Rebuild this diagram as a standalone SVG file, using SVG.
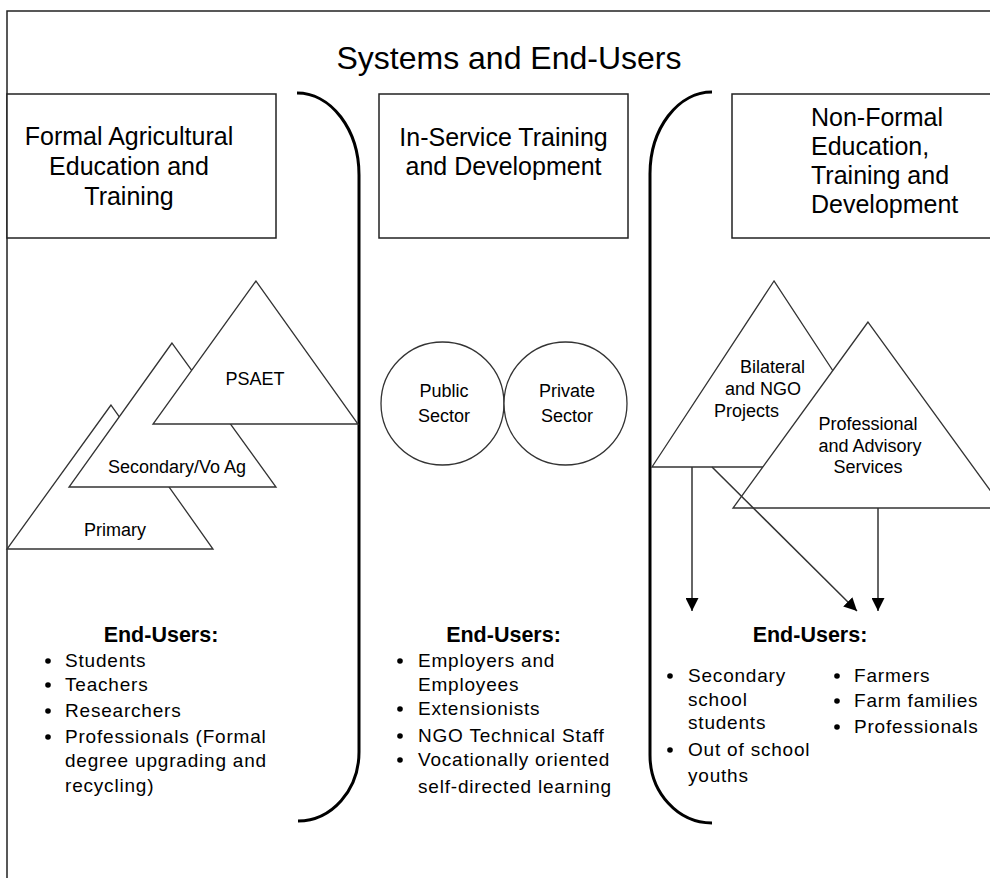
<svg xmlns="http://www.w3.org/2000/svg" width="990" height="878" viewBox="0 0 990 878">
<defs>
<style>
text{font-family:"Liberation Sans",Arial,sans-serif;fill:#000}
.frame{fill:none;stroke:#222;stroke-width:1.5}
.box{fill:#fff;stroke:#222;stroke-width:1.5}
.shape{fill:#fff;stroke:#333;stroke-width:1.3}
.brk{fill:none;stroke:#000;stroke-width:3}
.hdr{font-size:25px}
.lbl{font-size:18px}
.eu{font-size:21.5px;font-weight:bold}
.li{font-size:19px;letter-spacing:0.8px}
.conn{fill:none;stroke:#333;stroke-width:1.5}
.dot{fill:#000}
</style>
<marker id="ah" viewBox="0 0 10 10" refX="10" refY="5" markerWidth="13" markerHeight="13" markerUnits="userSpaceOnUse" orient="auto">
<path d="M0,0 L10,5 L0,10 z" fill="#000"/>
</marker>
</defs>
<rect width="990" height="878" fill="#fff"/>
<path class="frame" d="M995,11 H7 V885"/>
<text x="509" y="69" font-size="32" text-anchor="middle">Systems and End-Users</text>

<g id="box-formal">
<rect class="box" x="7" y="94" width="269" height="144"/>
<text class="hdr" text-anchor="middle"><tspan x="129" y="145">Formal Agricultural</tspan><tspan x="129" y="175">Education and</tspan><tspan x="129" y="205">Training</tspan></text>
</g>
<g id="box-inservice">
<rect class="box" x="379" y="94" width="249" height="144"/>
<text class="hdr" text-anchor="middle"><tspan x="503.5" y="146">In-Service Training</tspan><tspan x="503.5" y="175">and Development</tspan></text>
</g>
<g id="box-nonformal">
<rect class="box" x="732" y="94" width="270" height="144"/>
<text class="hdr"><tspan x="811" y="126">Non-Formal</tspan><tspan x="811" y="155">Education,</tspan><tspan x="811" y="184">Training and</tspan><tspan x="811" y="213">Development</tspan></text>
</g>

<g id="brackets">
<path class="brk" d="M297,93 A62,82 0 0 1 359,175 V752 A61,69 0 0 1 298,821"/>
<path class="brk" d="M712,92 A62,82 0 0 0 650,174 V755 A62,68 0 0 0 712,823"/>
</g>

<g id="tri-primary">
<polygon class="shape" points="111,405 7,549 213,549"/>
<text class="lbl" x="115" y="536" text-anchor="middle">Primary</text>
</g>
<g id="tri-secondary">
<polygon class="shape" points="172,343 69,487 276,487"/>
<text class="lbl" x="177" y="473" text-anchor="middle">Secondary/Vo Ag</text>
</g>
<g id="tri-psaet">
<polygon class="shape" points="256,281 153,424 358,424"/>
<text class="lbl" x="255" y="385" text-anchor="middle">PSAET</text>
</g>

<g id="circle-public">
<circle class="shape" cx="442.5" cy="403.5" r="61.5"/>
<text class="lbl" text-anchor="middle"><tspan x="444" y="397">Public</tspan><tspan x="444" y="422">Sector</tspan></text>
</g>
<g id="circle-private">
<circle class="shape" cx="565.5" cy="403.5" r="61.5"/>
<text class="lbl" text-anchor="middle"><tspan x="567" y="397">Private</tspan><tspan x="567" y="422">Sector</tspan></text>
</g>

<g id="tri-bilateral">
<polygon class="shape" points="774,281 652,467 896,467"/>
<text class="lbl"><tspan x="740" y="373">Bilateral</tspan><tspan x="725" y="395">and NGO</tspan><tspan x="714" y="417">Projects</tspan></text>
</g>
<g id="tri-professional">
<polygon class="shape" points="868,322 733,508 1003,508"/>
<text class="lbl" text-anchor="middle"><tspan x="868" y="430">Professional</tspan><tspan x="870" y="452">and Advisory</tspan><tspan x="868" y="473">Services</tspan></text>
</g>

<g id="connectors">
<line class="conn" x1="692" y1="467" x2="692" y2="611" marker-end="url(#ah)"/>
<line class="conn" x1="712" y1="467" x2="857" y2="611" marker-end="url(#ah)"/>
<line class="conn" x1="878" y1="508" x2="878" y2="611" marker-end="url(#ah)"/>
</g>

<g id="endusers-formal">
<text class="eu" x="161" y="642" text-anchor="middle">End-Users:</text>
<circle class="dot" cx="48" cy="661" r="2.8"/><circle class="dot" cx="48" cy="685" r="2.8"/><circle class="dot" cx="48" cy="711" r="2.8"/><circle class="dot" cx="48" cy="737" r="2.8"/>
<text class="li"><tspan x="65" y="667">Students</tspan><tspan x="65" y="691">Teachers</tspan><tspan x="65" y="717">Researchers</tspan><tspan x="65" y="743">Professionals (Formal</tspan><tspan x="65" y="767">degree upgrading and</tspan><tspan x="65" y="792">recycling)</tspan></text>
</g>
<g id="endusers-inservice">
<text class="eu" x="503.5" y="642" text-anchor="middle">End-Users:</text>
<circle class="dot" cx="400" cy="661" r="2.8"/><circle class="dot" cx="400" cy="709" r="2.8"/><circle class="dot" cx="400" cy="736" r="2.8"/><circle class="dot" cx="400" cy="760" r="2.8"/>
<text class="li"><tspan x="418" y="667">Employers and</tspan><tspan x="418" y="691">Employees</tspan><tspan x="418" y="715">Extensionists</tspan><tspan x="418" y="742">NGO Technical Staff</tspan><tspan x="418" y="766">Vocationally oriented</tspan><tspan x="418" y="793">self-directed learning</tspan></text>
</g>
<g id="endusers-nonformal">
<text class="eu" x="810" y="642" text-anchor="middle">End-Users:</text>
<circle class="dot" cx="670" cy="676" r="2.8"/><circle class="dot" cx="670" cy="750" r="2.8"/><circle class="dot" cx="837" cy="676" r="2.8"/><circle class="dot" cx="837" cy="701" r="2.8"/><circle class="dot" cx="837" cy="727" r="2.8"/>
<text class="li"><tspan x="688" y="682">Secondary</tspan><tspan x="688" y="706">school</tspan><tspan x="688" y="729">students</tspan><tspan x="688" y="756">Out of school</tspan><tspan x="688" y="782">youths</tspan></text>
<text class="li"><tspan x="854" y="682">Farmers</tspan><tspan x="854" y="707">Farm families</tspan><tspan x="854" y="733">Professionals</tspan></text>
</g>
</svg>
